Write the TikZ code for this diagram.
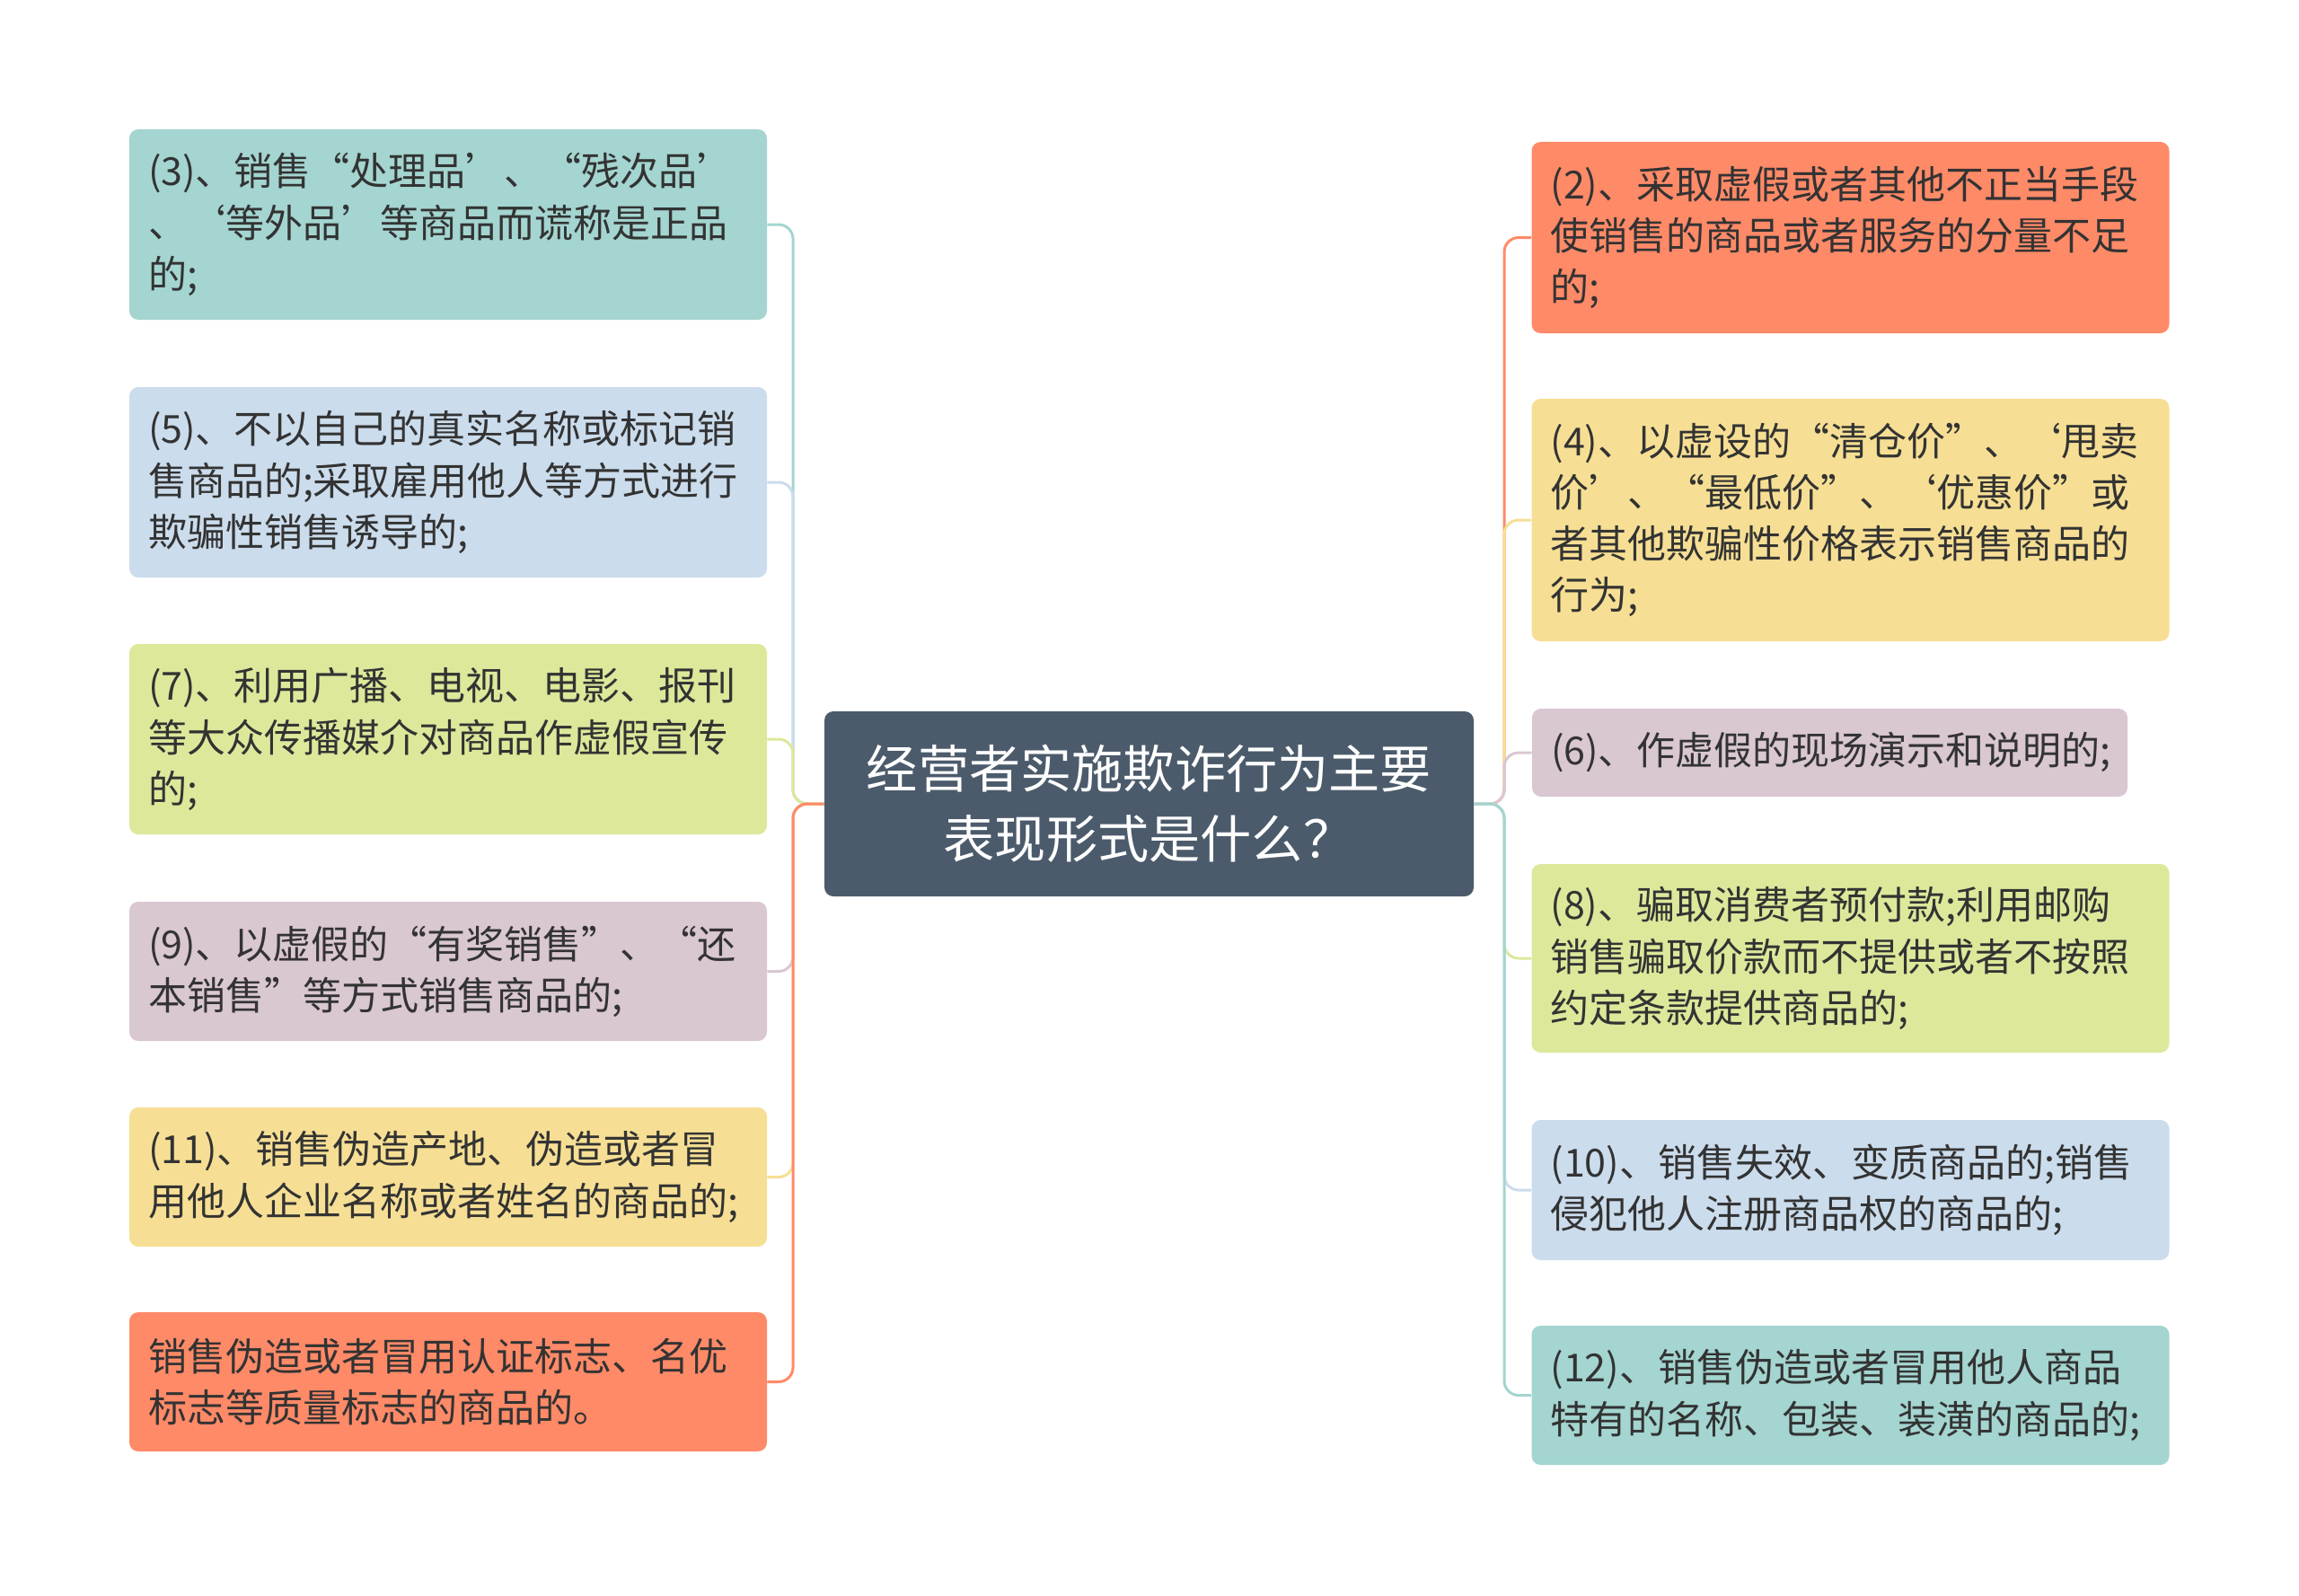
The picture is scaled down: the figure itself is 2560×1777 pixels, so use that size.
\documentclass[tikz,border=0pt]{standalone}
\usepackage{fontspec}
\setmainfont{Noto Sans CJK SC}
\definecolor{hubc}{HTML}{4B5B6B}
\definecolor{tealc}{HTML}{A4D5D0}
\definecolor{bluec}{HTML}{CBDCEC}
\definecolor{greenc}{HTML}{DDE89B}
\definecolor{mauvec}{HTML}{D9C7D2}
\definecolor{yellowc}{HTML}{F6DF94}
\definecolor{coralc}{HTML}{FF8A68}
\definecolor{inkc}{HTML}{333333}
\begin{document}
\begin{tikzpicture}[x=0.5pt,y=-0.5pt]

\tikzset{item/.style = {rounded corners=5pt, text width=334pt, inner xsep=10.5pt, inner ysep=0pt,
                        align=left, text=inkc, font=\fontsize{21.5}{28.6}\selectfont},
         link/.style = {line width=1.5pt, rounded corners=8pt}}

\useasboundingbox (0,0) rectangle (2560,1777);

\node[fill=hubc, rounded corners=5pt, text width=341.5pt, inner xsep=10pt, minimum height=103pt,
      align=center, text=white, font=\fontsize{28.6}{39}\selectfont] (hub) at (1279.5,895)
      {经营者实施欺诈行为主要\\表现形式是什么？};

\node[item, fill=tealc, minimum height=106pt] (n3) at (499,250)
      {(3)、销售“处理品’、“残次品’\\、‘等外品’等商品而谎称是正品\\的;};
\node[item, fill=bluec, minimum height=106pt] (n5) at (499,537)
      {(5)、不以自己的真实名称或标记销\\售商品的;采取雇用他人等方式进行\\欺骗性销售诱导的;};
\node[item, fill=greenc, minimum height=106pt] (n7) at (499,823)
      {(7)、利用广播、电视、电影、报刊\\等大众传播媒介对商品作虚假宣传\\的;};
\node[item, fill=mauvec, minimum height=77.5pt] (n9) at (499,1081.5)
      {(9)、以虚假的“有奖销售”、“还\\本销售”等方式销售商品的;};
\node[item, fill=yellowc, minimum height=77.5pt] (n11) at (499,1310.5)
      {(11)、销售伪造产地、伪造或者冒\\用他人企业名称或者姓名的商品的;};
\node[item, fill=coralc, minimum height=77.5pt] (n13) at (499,1538.5)
      {销售伪造或者冒用认证标志、名优\\标志等质量标志的商品的。};

\node[item, fill=coralc, minimum height=106.5pt] (n2) at (2060.5,264.5)
      {(2)、采取虚假或者其他不正当手段\\使销售的商品或者服务的分量不足\\的;};
\node[item, fill=yellowc, minimum height=135pt] (n4) at (2060.5,579)
      {(4)、以虚设的“清仓价”、‘甩卖\\价’、“最低价”、‘优惠价”或\\者其他欺骗性价格表示销售商品的\\行为;};
\node[item, fill=mauvec, text width=310.5pt, minimum height=49pt] (n6) at (2037.5,838)
      {(6)、作虚假的现场演示和说明的;};
\node[item, fill=greenc, minimum height=105pt] (n8) at (2060.5,1067)
      {(8)、骗取消费者预付款;利用邮购\\销售骗取价款而不提供或者不按照\\约定条款提供商品的;};
\node[item, fill=bluec, minimum height=78pt] (n10) at (2060.5,1325)
      {(10)、销售失效、变质商品的;销售\\侵犯他人注册商品权的商品的;};
\node[item, fill=tealc, minimum height=77.5pt] (n12) at (2060.5,1553.5)
      {(12)、销售伪造或者冒用他人商品\\特有的名称、包装、装潢的商品的;};

\coordinate (lj) at (883,895);
\coordinate (rj) at (1675,895);

\draw[link, tealc] (hub.west) -- (lj) |- (n3.east);
\draw[link, bluec] (hub.west) -- (lj) |- (n5.east);
\draw[link, greenc] (hub.west) -- (lj) |- (n7.east);
\draw[link, mauvec] (hub.west) -- (lj) |- (n9.east);
\draw[link, yellowc] (hub.west) -- (lj) |- (n11.east);
\draw[link, coralc] (hub.west) -- (lj) |- (n13.east);

\draw[link, coralc] (hub.east) -- (rj) |- (n2.west);
\draw[link, yellowc] (hub.east) -- (rj) |- (n4.west);
\draw[link, mauvec] (hub.east) -- (rj) |- (n6.west);
\draw[link, greenc] (hub.east) -- (rj) |- (n8.west);
\draw[link, bluec] (hub.east) -- (rj) |- (n10.west);
\draw[link, tealc] (hub.east) -- (rj) |- (n12.west);

\end{tikzpicture}
\end{document}
